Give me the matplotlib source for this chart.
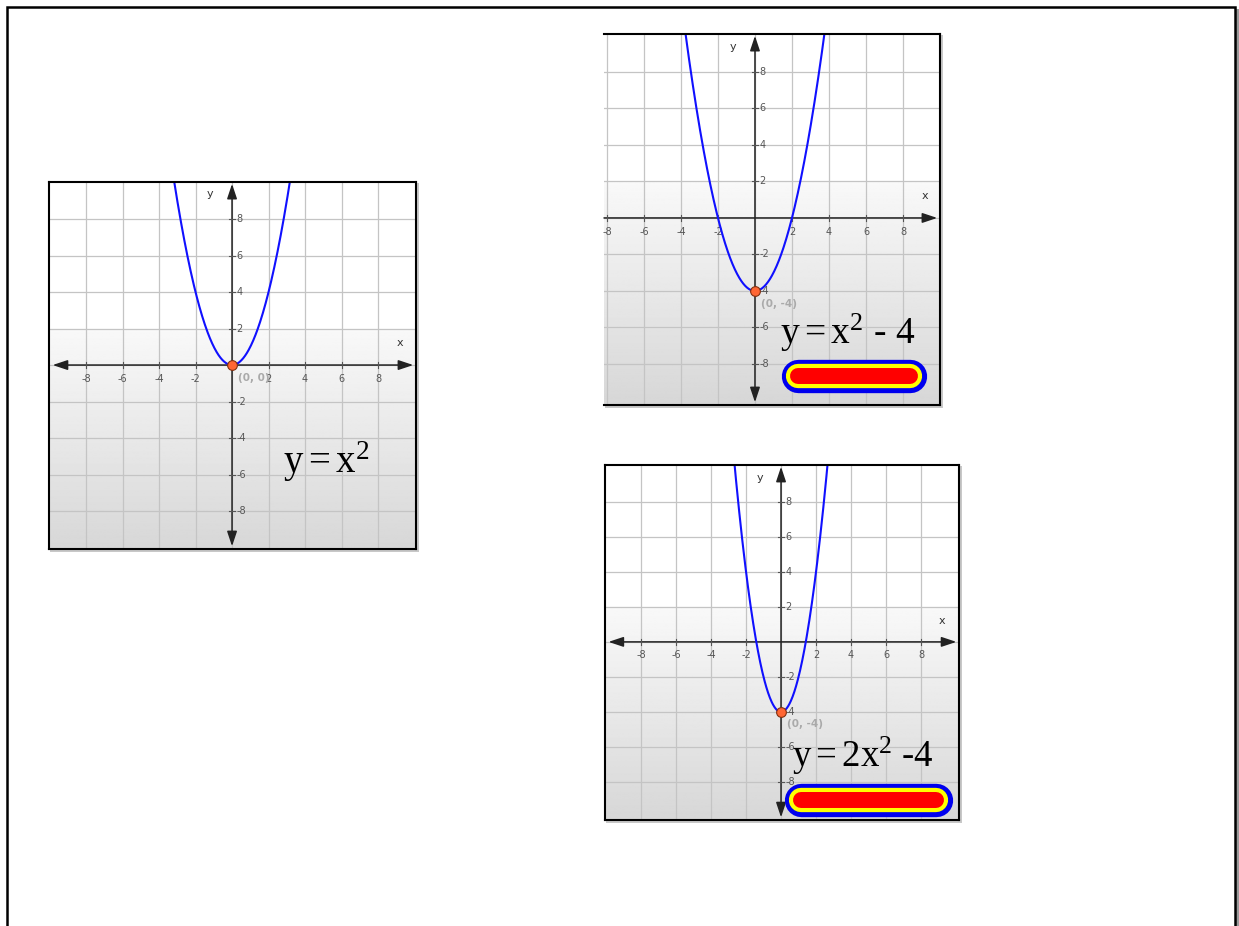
import numpy as np
import matplotlib.pyplot as plt
from matplotlib.patches import Rectangle

plt.rcParams['mathtext.fontset'] = 'custom'
plt.rcParams['mathtext.rm'] = 'Liberation Serif'
plt.rcParams['mathtext.it'] = 'Liberation Serif:italic'
plt.rcParams['mathtext.bf'] = 'Liberation Serif:bold'
SANS = 'DejaVu Sans'

W, H = 1239, 926

# three parabolas y = a*x^2 + c
coef_a = [1, 1, 2]
coef_c = [0, -4, -4]
equations = [r'$\mathrm{y = x^2}$',
             r'$\mathrm{y = x^2\text{ - 4}}$',
             r'$\mathrm{y = 2x^2\text{ -4}}$']
vertex_labels = ['(0, 0)', '(0, -4)', '(0, -4)']
tick_vals = [-8, -6, -4, -2, 2, 4, 6, 8]
grid_vals = [-8, -6, -4, -2, 0, 2, 4, 6, 8]

# panel boxes in pixels (left, top, right, bottom) and visible data window
boxes = [(49, 182, 416, 549), (604, 34, 940, 405), (605, 465, 959, 820)]
xlims = [(-10.03, 10.08), (-8.16, 10.0), (-10.06, 10.17)]
ylims = [(-10.08, 10.03), (-10.25, 10.08), (-10.17, 10.1)]
eq_pos = [(2.8, -5.9), (1.35, -6.9), (0.65, -7.15)]
eq_size = [28, 27, 26.5]
# highlighter strokes under the equations (x from, x to, y)
marks = [None, (2.3, 8.4, -8.65), (1.14, 8.86, -9.03)]

fig = plt.figure(figsize=(W / 100, H / 100), dpi=100)

# page frame
bg = fig.add_axes([0, 0, 1, 1])
bg.set_xlim(0, W)
bg.set_ylim(H, 0)
bg.axis('off')
bg.add_patch(Rectangle((1236, 9), 4, H, color='#9a9a9a', lw=0))
bg.plot([7, 7, 1234.5, 1234.5], [H, 7, 7, H], color='black', lw=1.8,
        solid_joinstyle='miter')

for i in range(3):
    l, t, r, b = boxes[i]
    # drop shadow
    bg.add_patch(Rectangle((l + 1, t + 1), r - l + 2, b - t + 2,
                           color='#c8c8c8', lw=0, zorder=1))
    ax = fig.add_axes([l / W, (H - b) / H, (r - l) / W, (b - t) / H])
    x0, x1 = xlims[i]
    y0, y1 = ylims[i]
    ax.set_xlim(x0, x1)
    ax.set_ylim(y0, y1)

    # background gradient: white on top, grey towards the bottom
    yy = np.linspace(y1, y0, 300)
    shade = np.where(yy > 2, 1.0, 0.975 - (2 - yy) / 12.0 * 0.13)
    ax.imshow(shade[:, None], extent=[x0, x1, y0, y1], aspect='auto',
              cmap='gray', vmin=0, vmax=1, zorder=0)

    for g in grid_vals:
        ax.axvline(g, color='#c4c4c4', lw=0.9, zorder=1)
        ax.axhline(g, color='#c4c4c4', lw=0.9, zorder=1)

    # axes with arrows
    left_tip = x0 + 0.2 if i != 1 else x0
    arrow_x = '<|-|>' if i != 1 else '-|>'
    ax.annotate('', xy=(x1 - 0.15, 0), xytext=(left_tip, 0),
                arrowprops=dict(arrowstyle=arrow_x + ',head_length=0.9,head_width=0.3',
                                color='#222222', lw=1.1, shrinkA=0, shrinkB=0),
                zorder=3)
    ax.annotate('', xy=(0, y1 - 0.1), xytext=(0, y0 + 0.15),
                arrowprops=dict(arrowstyle='<|-|>,head_length=0.9,head_width=0.3',
                                color='#222222', lw=1.1, shrinkA=0, shrinkB=0),
                zorder=3)

    for v in tick_vals:
        ax.plot([v, v], [-0.15, 0.15], color='#555555', lw=0.8, zorder=3)
        ax.plot([-0.15, 0.15], [v, v], color='#555555', lw=0.8, zorder=3)
        ax.text(v, -0.75, str(v), fontsize=7, color='#555555', family=SANS,
                ha='center', va='center', zorder=4)
        ax.text(0.25, v, str(v), fontsize=7, color='#555555', family=SANS,
                ha='left', va='center', zorder=4)

    ax.text(9.2, 1.2, 'x', fontsize=8, color='#333333', family=SANS,
            ha='center', va='center')
    ax.text(-1.2, 9.35, 'y', fontsize=8, color='#333333', family=SANS,
            ha='center', va='center')

    xs = np.linspace(-10, 10, 800)
    ax.plot(xs, coef_a[i] * xs ** 2 + coef_c[i], color='#1010ff', lw=1.5, zorder=5)
    ax.plot([0], [coef_c[i]], 'o', ms=7, mfc='#ff6633', mec='#803010',
            mew=0.8, zorder=6)
    ax.text(0.35, coef_c[i] - 0.7, vertex_labels[i], fontsize=7.5, family=SANS,
            color='#aaaaaa', fontweight='bold', ha='left', va='center', zorder=6)

    ex, ey = eq_pos[i]
    ax.text(ex, ey, equations[i], fontsize=eq_size[i],
            ha='left', va='baseline', color='black', zorder=7)

    if marks[i] is not None:
        mx0, mx1, my = marks[i]
        for c, w in [('#0000ee', 24), ('#ffff00', 17.5), ('#ff0000', 11.5)]:
            ax.plot([mx0, mx1], [my, my], color=c, lw=w,
                    solid_capstyle='round', zorder=8)

    ax.set_xticks([])
    ax.set_yticks([])
    for s in ax.spines.values():
        s.set_linewidth(1.5)
        s.set_color('black')
        s.set_zorder(9)
    if i == 1:
        ax.spines['left'].set_visible(False)

fig.savefig('out.png', dpi=100)
